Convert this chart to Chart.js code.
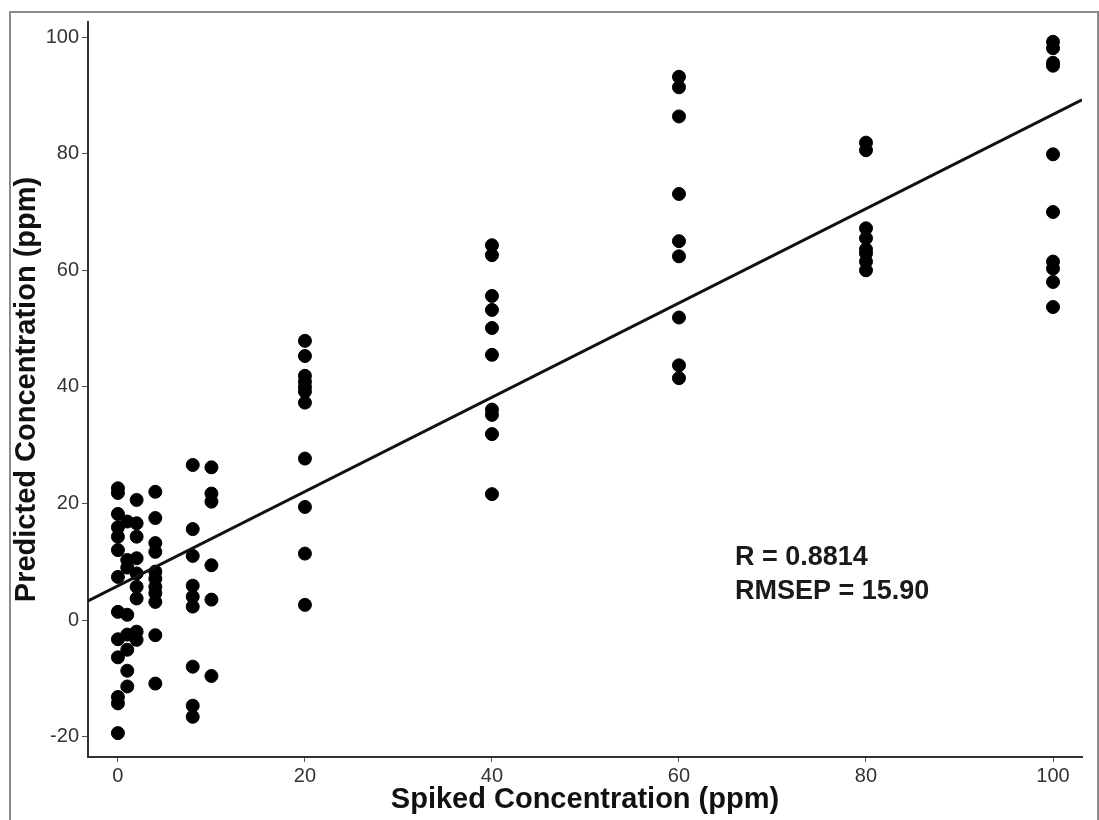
<!DOCTYPE html>
<html>
<head>
<meta charset="utf-8">
<script src="https://cdn.jsdelivr.net/npm/chart.js@4/dist/chart.umd.min.js"></script>
<style>
  body { margin: 0; background: #fff; overflow: hidden; }
  #wrap { position: relative; width: 1099px; height: 820px; }
  #frame { position: absolute; left: 9px; top: 11px; width: 1086px; height: 830px; border: 2px solid #8c8c8c; }
  canvas { position: absolute; left: 0; top: 0; }
</style>
</head>
<body>
<div id="wrap">
  <div id="frame"></div>
  <canvas id="chart" width="1099" height="820"></canvas>
</div>
<script>
const spikedLevels = [0, 1, 2, 4, 8, 10, 20, 40, 60, 80, 100];
const predAt0 = [22.6, 21.8, 18.2, 15.9, 14.3, 12.0, 7.4, 1.4, -3.3, -6.4, -13.2, -14.3, -19.4];
const predAt1 = [16.9, 10.3, 9.0, 0.9, -2.5, -5.1, -8.7, -11.4];
const predAt2 = [20.6, 16.6, 14.3, 10.6, 8.0, 5.7, 3.7, -2.0, -3.4];
const predAt4 = [22.0, 17.5, 13.2, 11.7, 8.3, 7.1, 5.7, 4.6, 3.1, -2.6, -10.9];
const predAt8 = [26.6, 15.6, 11.0, 5.9, 4.0, 2.3, -8.0, -14.7, -16.6];
const predAt10 = [26.2, 21.7, 20.3, 9.4, 3.5, -9.6];
const predAt20 = [47.9, 45.3, 41.9, 40.9, 40.0, 39.2, 37.3, 27.7, 19.4, 11.4, 2.6];
const predAt40 = [64.3, 62.6, 55.6, 53.2, 50.1, 45.5, 36.1, 35.2, 31.9, 21.6];
const predAt60 = [93.2, 91.4, 86.4, 73.1, 65.0, 62.4, 51.9, 43.7, 41.5];
const predAt80 = [81.9, 80.6, 67.2, 65.5, 63.6, 62.9, 61.5, 60.0];
const predAt100 = [99.2, 98.1, 95.6, 95.1, 79.9, 70.0, 61.5, 60.3, 58.0, 53.7];

const fitSlope = 0.809;
const fitIntercept = 5.85;

const xTicks = [0, 20, 40, 60, 80, 100];
const yTicks = [-20, 0, 20, 40, 60, 80, 100];
const statsText = ['R = 0.8814', 'RMSEP = 15.90'];

const xMin = -3.2, xMax = 103.1;
const yMin = -23.5, yMax = 102.6;

const groups = [predAt0, predAt1, predAt2, predAt4, predAt8, predAt10, predAt20, predAt40, predAt60, predAt80, predAt100];
const points = [];
groups.forEach((vals, i) => {
  vals.forEach(v => points.push({ x: spikedLevels[i], y: v }));
});

const fitLine = [
  { x: xMin, y: fitIntercept + fitSlope * xMin },
  { x: xMax, y: fitIntercept + fitSlope * xMax }
];

const statsPlugin = {
  id: 'stats',
  afterDraw(chart) {
    const ctx = chart.ctx;
    ctx.save();
    ctx.font = 'bold 27px "Liberation Sans", Arial, sans-serif';
    ctx.fillStyle = '#1a1a1a';
    ctx.textBaseline = 'middle';
    ctx.fillText(statsText[0], 735, 558);
    ctx.fillText(statsText[1], 735, 592);
    ctx.restore();
  }
};

const tickFont = { family: '"Liberation Sans", Arial, sans-serif', size: 20 };
const titleFont = { family: '"Liberation Sans", Arial, sans-serif', size: 29, weight: 'bold', lineHeight: 1.2 };

new Chart(document.getElementById('chart'), {
  type: 'scatter',
  data: {
    datasets: [
      {
        type: 'line',
        data: fitLine,
        borderColor: '#111',
        borderWidth: 3,
        pointRadius: 0,
        fill: false
      },
      {
        data: points,
        backgroundColor: '#000',
        borderColor: '#000',
        pointRadius: 6.5,
        pointHoverRadius: 6.5
      }
    ]
  },
  options: {
    responsive: false,
    animation: false,
    layout: { padding: { top: 22, right: 17, left: 0, bottom: 0 } },
    plugins: { legend: { display: false }, tooltip: { enabled: false } },
    scales: {
      x: {
        type: 'linear',
        min: xMin,
        max: xMax,
        afterBuildTicks: s => { s.ticks = xTicks.map(v => ({ value: v })); },
        afterFit: s => { s.height = 63; },
        ticks: { font: tickFont, color: '#333', padding: 2 },
        grid: { drawOnChartArea: false, drawTicks: true, tickLength: 5, color: '#555' },
        border: { display: true, color: '#333', width: 2 },
        title: { display: true, text: 'Spiked Concentration (ppm)', font: titleFont, color: '#111', padding: { top: 0, bottom: 3 } }
      },
      y: {
        type: 'linear',
        min: yMin,
        max: yMax,
        afterBuildTicks: s => { s.ticks = yTicks.map(v => ({ value: v })); },
        afterFit: s => { s.width = 88; },
        ticks: { font: tickFont, color: '#333', padding: 3 },
        grid: { drawOnChartArea: false, drawTicks: true, tickLength: 6, color: '#555' },
        border: { display: true, color: '#333', width: 2 },
        title: { display: true, text: 'Predicted Concentration (ppm)', font: titleFont, color: '#111', padding: { top: 10, bottom: 0 } }
      }
    }
  },
  plugins: [statsPlugin]
});
</script>
</body>
</html>
